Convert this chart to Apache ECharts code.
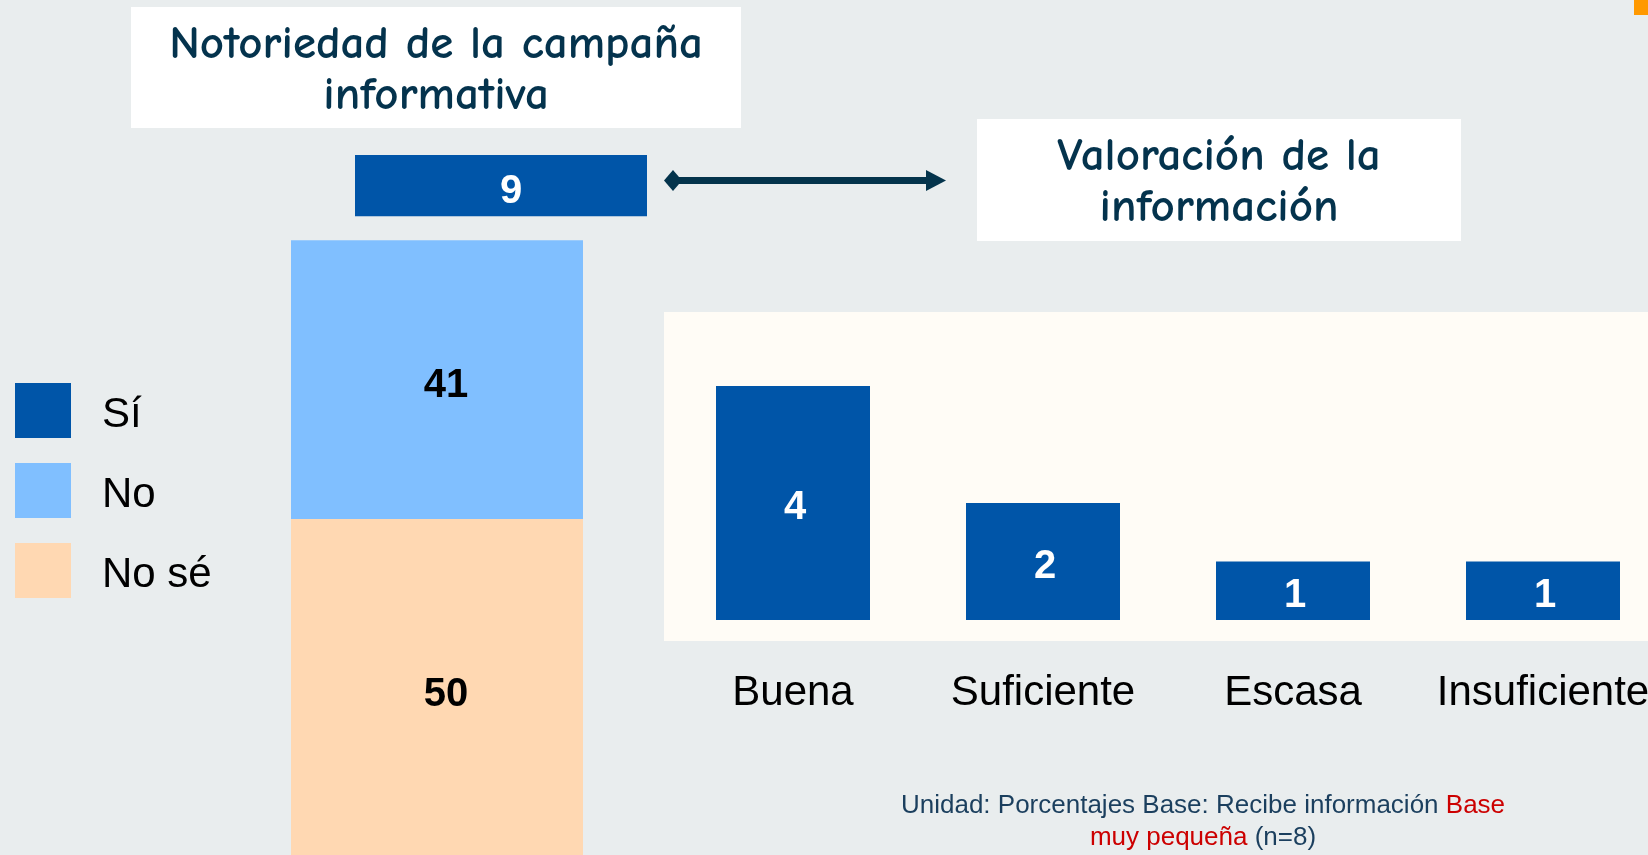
<!DOCTYPE html>
<html>
<head>
<meta charset="utf-8">
<script src="https://cdn.jsdelivr.net/npm/echarts@6/dist/echarts.min.js"></script>
<style>
  html, body { margin: 0; padding: 0; background: #E9EDEE; }
  #chart { width: 1648px; height: 855px; }
</style>
</head>
<body>
<div id="chart"></div>
<script>
// notoriedad (stacked column, "Sí" pulled out on top)
const notoriedadLabels = ['Sí', 'No', 'No sé']
const notoriedadValues = [9, 41, 50]
// valoración de la información
const valoracionCategories = ['Buena', 'Suficiente', 'Escasa', 'Insuficiente']
const valoracionValues = [4, 2, 1, 1]

const DARK = '#0055A8'
const LIGHT = '#80BFFF'
const PEACH = '#FFD8B2'
const TITLE_COLOR = '#04334D'
const titleFont = '"Comic Sans MS", "Comic Neue", Lato, sans-serif'
const bodyFont = '"Liberation Sans", Arial, sans-serif'

const chart = echarts.init(document.getElementById('chart'))

const baseSi = notoriedadValues[1] + notoriedadValues[2]

const hiddenCat = { type: 'category', data: ['x'], show: false }
const hiddenVal = { type: 'value', min: 0, max: 100, show: false }

chart.setOption({
  backgroundColor: '#E9EDEE',
  animation: false,
  legend: {
    orient: 'vertical',
    left: 15,
    top: 383,
    padding: 0,
    itemWidth: 56,
    itemHeight: 55,
    itemGap: 25,
    icon: 'rect',
    selectedMode: false,
    data: notoriedadLabels,
    formatter: '{t|{name}}',
    textStyle: {
      fontFamily: bodyFont,
      fontSize: 42,
      color: '#000',
      rich: {
        t: {
          fontFamily: bodyFont,
          fontSize: 42,
          color: '#000',
          padding: [10, 0, 0, 26]
        }
      }
    }
  },
  grid: [
    // No / No sé column
    { left: 291, width: 292, top: 179, height: 680, outerBoundsMode: 'none' },
    // Sí segment, shifted up and right
    { left: 355, width: 292, top: 155, height: 680, outerBoundsMode: 'none' },
    // valoración
    { left: 668, width: 1000, top: 327.5, height: 292.5, outerBoundsMode: 'none', containLabel: false }
  ],
  xAxis: [
    Object.assign({ gridIndex: 0 }, hiddenCat),
    Object.assign({ gridIndex: 1 }, hiddenCat),
    {
      gridIndex: 2,
      type: 'category',
      data: valoracionCategories,
      axisLine: { show: false },
      axisTick: { show: false },
      axisLabel: {
        interval: 0,
        margin: 52,
        fontFamily: bodyFont,
        fontSize: 42,
        color: '#000'
      }
    }
  ],
  yAxis: [
    Object.assign({ gridIndex: 0 }, hiddenVal),
    Object.assign({ gridIndex: 1 }, hiddenVal),
    { gridIndex: 2, type: 'value', min: 0, max: 5, show: false }
  ],
  series: [
    {
      name: notoriedadLabels[2],
      type: 'bar',
      xAxisIndex: 0,
      yAxisIndex: 0,
      stack: 'n',
      barWidth: '100%',
      data: [notoriedadValues[2]],
      itemStyle: { color: PEACH },
      label: {
        show: true,
        position: 'inside',
        offset: [9, 6],
        fontFamily: bodyFont,
        fontWeight: 'bold',
        fontSize: 40,
        color: '#000'
      }
    },
    {
      name: notoriedadLabels[1],
      type: 'bar',
      xAxisIndex: 0,
      yAxisIndex: 0,
      stack: 'n',
      barWidth: '100%',
      data: [notoriedadValues[1]],
      itemStyle: { color: LIGHT },
      label: {
        show: true,
        position: 'inside',
        offset: [9, 6],
        fontFamily: bodyFont,
        fontWeight: 'bold',
        fontSize: 40,
        color: '#000'
      }
    },
    {
      // invisible base so Sí sits at the top of the column
      name: 'base',
      type: 'bar',
      xAxisIndex: 1,
      yAxisIndex: 1,
      stack: 's',
      barWidth: '100%',
      data: [baseSi],
      itemStyle: { color: 'transparent' },
      silent: true
    },
    {
      name: notoriedadLabels[0],
      type: 'bar',
      xAxisIndex: 1,
      yAxisIndex: 1,
      stack: 's',
      barWidth: '100%',
      data: [notoriedadValues[0]],
      itemStyle: { color: DARK },
      label: {
        show: true,
        position: 'inside',
        offset: [10, 6],
        fontFamily: bodyFont,
        fontWeight: 'bold',
        fontSize: 40,
        color: '#fff'
      }
    },
    {
      name: 'Valoración',
      type: 'bar',
      xAxisIndex: 2,
      yAxisIndex: 2,
      barWidth: 154,
      data: valoracionValues,
      itemStyle: { color: DARK },
      z: 3,
      label: {
        show: true,
        position: 'inside',
        offset: [2, 5],
        fontFamily: bodyFont,
        fontWeight: 'bold',
        fontSize: 40,
        color: '#fff'
      }
    }
  ],
  graphic: [
    // panel behind the valoración bars
    {
      type: 'rect',
      z: -10,
      shape: { x: 664, y: 312, width: 990, height: 329 },
      style: { fill: '#FFFCF6' }
    },
    // orange corner mark
    {
      type: 'rect',
      shape: { x: 1634, y: 0, width: 14, height: 15 },
      style: { fill: '#FF9900' }
    },
    // title boxes
    {
      type: 'group',
      children: [
        {
          type: 'rect',
          shape: { x: 131, y: 7, width: 610, height: 121 },
          style: { fill: '#fff' }
        },
        {
          type: 'text',
          x: 436,
          y: 70,
          style: {
            text: 'Notoriedad de la campaña\ninformativa',
            align: 'center',
            verticalAlign: 'middle',
            lineHeight: 51,
            fontFamily: titleFont,
            fontWeight: 'bold',
            fontSize: 47,
            fill: TITLE_COLOR
          }
        }
      ]
    },
    {
      type: 'group',
      children: [
        {
          type: 'rect',
          shape: { x: 977, y: 119, width: 484, height: 122 },
          style: { fill: '#fff' }
        },
        {
          type: 'text',
          x: 1219,
          y: 182,
          style: {
            text: 'Valoración de la\ninformación',
            align: 'center',
            verticalAlign: 'middle',
            lineHeight: 51,
            fontFamily: titleFont,
            fontWeight: 'bold',
            fontSize: 47,
            fill: TITLE_COLOR
          }
        }
      ]
    },
    // double-headed connector
    {
      type: 'line',
      shape: { x1: 676, y1: 180.5, x2: 930, y2: 180.5 },
      style: { stroke: '#04344C', lineWidth: 7 }
    },
    {
      type: 'polygon',
      shape: { points: [[664, 180.5], [673, 170], [682, 180.5], [673, 191]] },
      style: { fill: '#04344C' }
    },
    {
      type: 'polygon',
      shape: { points: [[926, 170], [946, 180.5], [926, 191]] },
      style: { fill: '#04344C' }
    },
    // footnote
    {
      type: 'text',
      x: 1203,
      y: 822,
      style: {
        text: 'Unidad: Porcentajes Base: Recibe información {r|Base}\n{r|muy pequeña} (n=8)',
        align: 'center',
        verticalAlign: 'middle',
        lineHeight: 32,
        fontFamily: bodyFont,
        fontSize: 26,
        fill: '#1B3F5E',
        rich: {
          r: { fill: '#CC0000', fontFamily: bodyFont, fontSize: 26, lineHeight: 32 }
        }
      }
    }
  ]
})
</script>
</body>
</html>
